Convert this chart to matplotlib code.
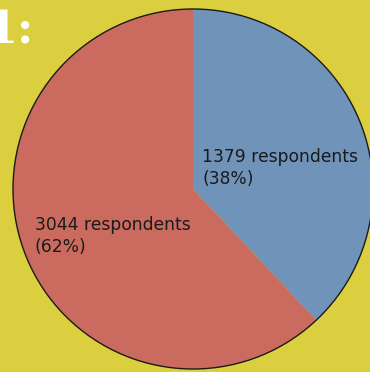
import matplotlib
matplotlib.use("Agg")
import matplotlib.pyplot as plt
from matplotlib.patches import Circle

# Data
counts = [1379, 3044]
percents = [38, 62]
labels = [f"{c} respondents\n({p}%)" for c, p in zip(counts, percents)]
colors = ["#6f93b9", "#cb6b5f"]
bg = "#dccf3f"

W, H = 370, 372
fig = plt.figure(figsize=(W / 100, H / 100), dpi=100, facecolor=bg)
ax = fig.add_axes([0, 0, 1, 1])
ax.set_facecolor(bg)

cx, cy, r = 193, H - 189, 180
wedges, _ = ax.pie(percents, colors=colors, startangle=90, counterclock=False,
                   center=(cx, cy), radius=r, frame=True,
                   wedgeprops=dict(linewidth=0))
ax.add_patch(Circle((cx, cy), r, fill=False, edgecolor="#1a1a1a", linewidth=1.0, zorder=5))

ax.text(202, H - 148, labels[0], ha="left", va="top", fontsize=12.3,
        color="#1a1a1a", linespacing=1.3)
ax.text(35, H - 216, labels[1], ha="left", va="top", fontsize=12.3,
        color="#1a1a1a", linespacing=1.3)

ax.text(34, H - 43, "1:", ha="right", va="baseline", fontsize=32,
        fontweight="bold", family="DejaVu Serif", color="white")

ax.set_xlim(0, W)
ax.set_ylim(0, H)
ax.set_aspect("auto")
ax.axis("off")

fig.savefig("out.png", dpi=100, facecolor=bg)
